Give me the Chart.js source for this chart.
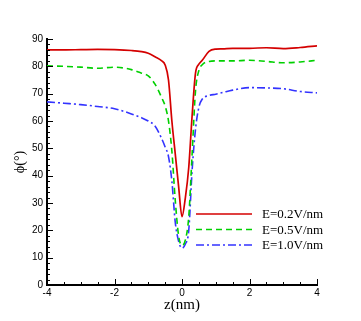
<!DOCTYPE html>
<html>
<head>
<meta charset="utf-8">
<script src="https://cdn.jsdelivr.net/npm/chart.js@4.4.0/dist/chart.umd.min.js"></script>
<style>
  html, body { margin: 0; padding: 0; background: #fff; }
  #wrap { width: 361px; height: 321px; }
</style>
</head>
<body>
<div id="wrap"><canvas id="phiChart" width="361" height="321"></canvas></div>
<script>
// z (nm) sample positions
const zNm = [-4, -3.5, -3, -2.5, -2, -1.5, -1.2, -1, -0.8, -0.6, -0.5, -0.4, -0.3, -0.2, -0.1, 0,
             0.1, 0.2, 0.3, 0.4, 0.5, 0.6, 0.8, 1, 1.2, 1.5, 2, 2.5, 3, 3.5, 4];

// phi (degrees) per field strength
const phiE02 = [86.0, 86.0, 86.1, 86.2, 86.1, 85.8, 85.4, 84.8, 83.5, 82.0, 80.5, 75.0, 60.0, 48.0, 36.0, 25.0,
                32.0, 43.0, 62.0, 77.5, 80.8, 82.2, 85.5, 86.3, 86.4, 86.6, 86.6, 86.8, 86.5, 86.9, 87.5];
const phiE05 = [80.2, 80.0, 79.7, 79.3, 79.7, 78.8, 77.5, 76.5, 73.5, 68.5, 65.5, 60.0, 49.0, 31.0, 18.0, 14.5,
                16.5, 25.0, 48.0, 71.0, 78.5, 80.6, 81.8, 82.0, 82.0, 82.0, 82.2, 81.8, 81.3, 81.6, 82.2];
const phiE10 = [67.0, 66.5, 66.0, 65.3, 64.5, 62.6, 61.2, 60.0, 58.2, 53.5, 50.5, 47.0, 38.0, 23.0, 16.0, 13.5,
                15.0, 20.0, 42.0, 57.0, 65.0, 68.0, 69.3, 69.8, 70.4, 71.3, 72.2, 72.1, 71.8, 70.8, 70.3];

const seriesLabels = ['E=0.2V/nm', 'E=0.5V/nm', 'E=1.0V/nm'];

// ticks
const xMin = -4, xMax = 4, xMajor = 2, xMinor = 0.5;
const yMin = 0, yMax = 90, yMajor = 10, yMinor = 2;

function toPoints(ys) {
    return zNm.map((z, i) => ({ x: z, y: ys[i] }));
}

// ticks pointing inward + in-plot legend
const innerTicks = {
    id: 'innerTicks',
    afterDatasetsDraw(chart) {
        const ctx = chart.ctx;
        const xs = chart.scales.x, ys = chart.scales.y;
        const area = chart.chartArea;
        ctx.save();
        ctx.strokeStyle = '#000';
        ctx.lineWidth = 1;
        for (let v = xMin; v <= xMax + 1e-9; v += xMinor) {
            const px = Math.round(xs.getPixelForValue(v)) + 0.5;
            const major = Math.abs(v / xMajor - Math.round(v / xMajor)) < 1e-6;
            const len = major ? 6 : 3;
            ctx.beginPath();
            ctx.moveTo(px, area.bottom);
            ctx.lineTo(px, area.bottom - len);
            ctx.stroke();
        }
        for (let v = yMin; v <= yMax + 1e-9; v += yMinor) {
            const py = Math.round(ys.getPixelForValue(v)) + 0.5;
            const major = v % yMajor === 0;
            const len = major ? 6 : 3;
            ctx.beginPath();
            ctx.moveTo(area.left, py);
            ctx.lineTo(area.left + len, py);
            ctx.stroke();
        }

        // legend inside the plot
        const lx0 = area.left + 149, lx1 = area.left + 205, tx = area.left + 215;
        let ly = area.top + 175;
        ctx.font = '13px "Liberation Serif", serif';
        ctx.textBaseline = 'middle';
        ctx.textAlign = 'left';
        chart.data.datasets.forEach(ds => {
            ctx.strokeStyle = ds.borderColor;
            ctx.lineWidth = ds.borderWidth;
            ctx.setLineDash(ds.borderDash || []);
            ctx.beginPath();
            ctx.moveTo(lx0, ly);
            ctx.lineTo(lx1, ly);
            ctx.stroke();
            ctx.setLineDash([]);
            ctx.fillStyle = '#000';
            ctx.fillText(ds.label, tx, ly + 1);
            ly += 15.5;
        });
        ctx.restore();
    }
};

const ctx = document.getElementById('phiChart').getContext('2d');
new Chart(ctx, {
    type: 'line',
    data: {
        datasets: [
            {
                label: seriesLabels[0],
                data: toPoints(phiE02),
                borderColor: '#d40000',
                borderWidth: 1.7,
                pointRadius: 0,
                cubicInterpolationMode: 'monotone',
                fill: false
            },
            {
                label: seriesLabels[1],
                data: toPoints(phiE05),
                borderColor: '#00d000',
                borderWidth: 1.6,
                borderDash: [6, 4],
                pointRadius: 0,
                cubicInterpolationMode: 'monotone',
                fill: false
            },
            {
                label: seriesLabels[2],
                data: toPoints(phiE10),
                borderColor: '#3333ff',
                borderWidth: 1.6,
                borderDash: [8, 3, 2, 3],
                pointRadius: 0,
                cubicInterpolationMode: 'monotone',
                fill: false
            }
        ]
    },
    options: {
        responsive: false,
        animation: false,
        layout: { padding: { top: 39, right: 44, left: 0, bottom: 0 } },
        plugins: {
            legend: { display: false },
            tooltip: { enabled: false }
        },
        scales: {
            x: {
                type: 'linear',
                min: xMin,
                max: xMax,
                afterFit(scale) { scale.height = 36; },
                border: { display: true, color: '#000', width: 2 },
                grid: { display: true, drawOnChartArea: false, drawTicks: false },
                ticks: {
                    stepSize: xMajor,
                    color: '#000',
                    padding: 2,
                    maxRotation: 0,
                    font: { family: '"Liberation Sans", Arial, sans-serif', size: 10 }
                },
                title: {
                    display: true,
                    text: 'z(nm)',
                    color: '#000',
                    padding: { top: 0, bottom: 7 },
                    font: { family: '"Liberation Serif", serif', size: 15 }
                }
            },
            y: {
                type: 'linear',
                min: yMin,
                max: yMax,
                afterFit(scale) { scale.width = 47; },
                border: { display: true, color: '#000', width: 2 },
                grid: { display: true, drawOnChartArea: false, drawTicks: false },
                ticks: {
                    stepSize: yMajor,
                    color: '#000',
                    padding: 4,
                    font: { family: '"Liberation Sans", Arial, sans-serif', size: 10 }
                },
                title: {
                    display: true,
                    text: 'ϕ(°)',
                    color: '#000',
                    padding: { top: 12, bottom: 0 },
                    font: { family: '"Liberation Serif", serif', size: 14 }
                }
            }
        }
    },
    plugins: [innerTicks]
});
</script>
</body>
</html>
